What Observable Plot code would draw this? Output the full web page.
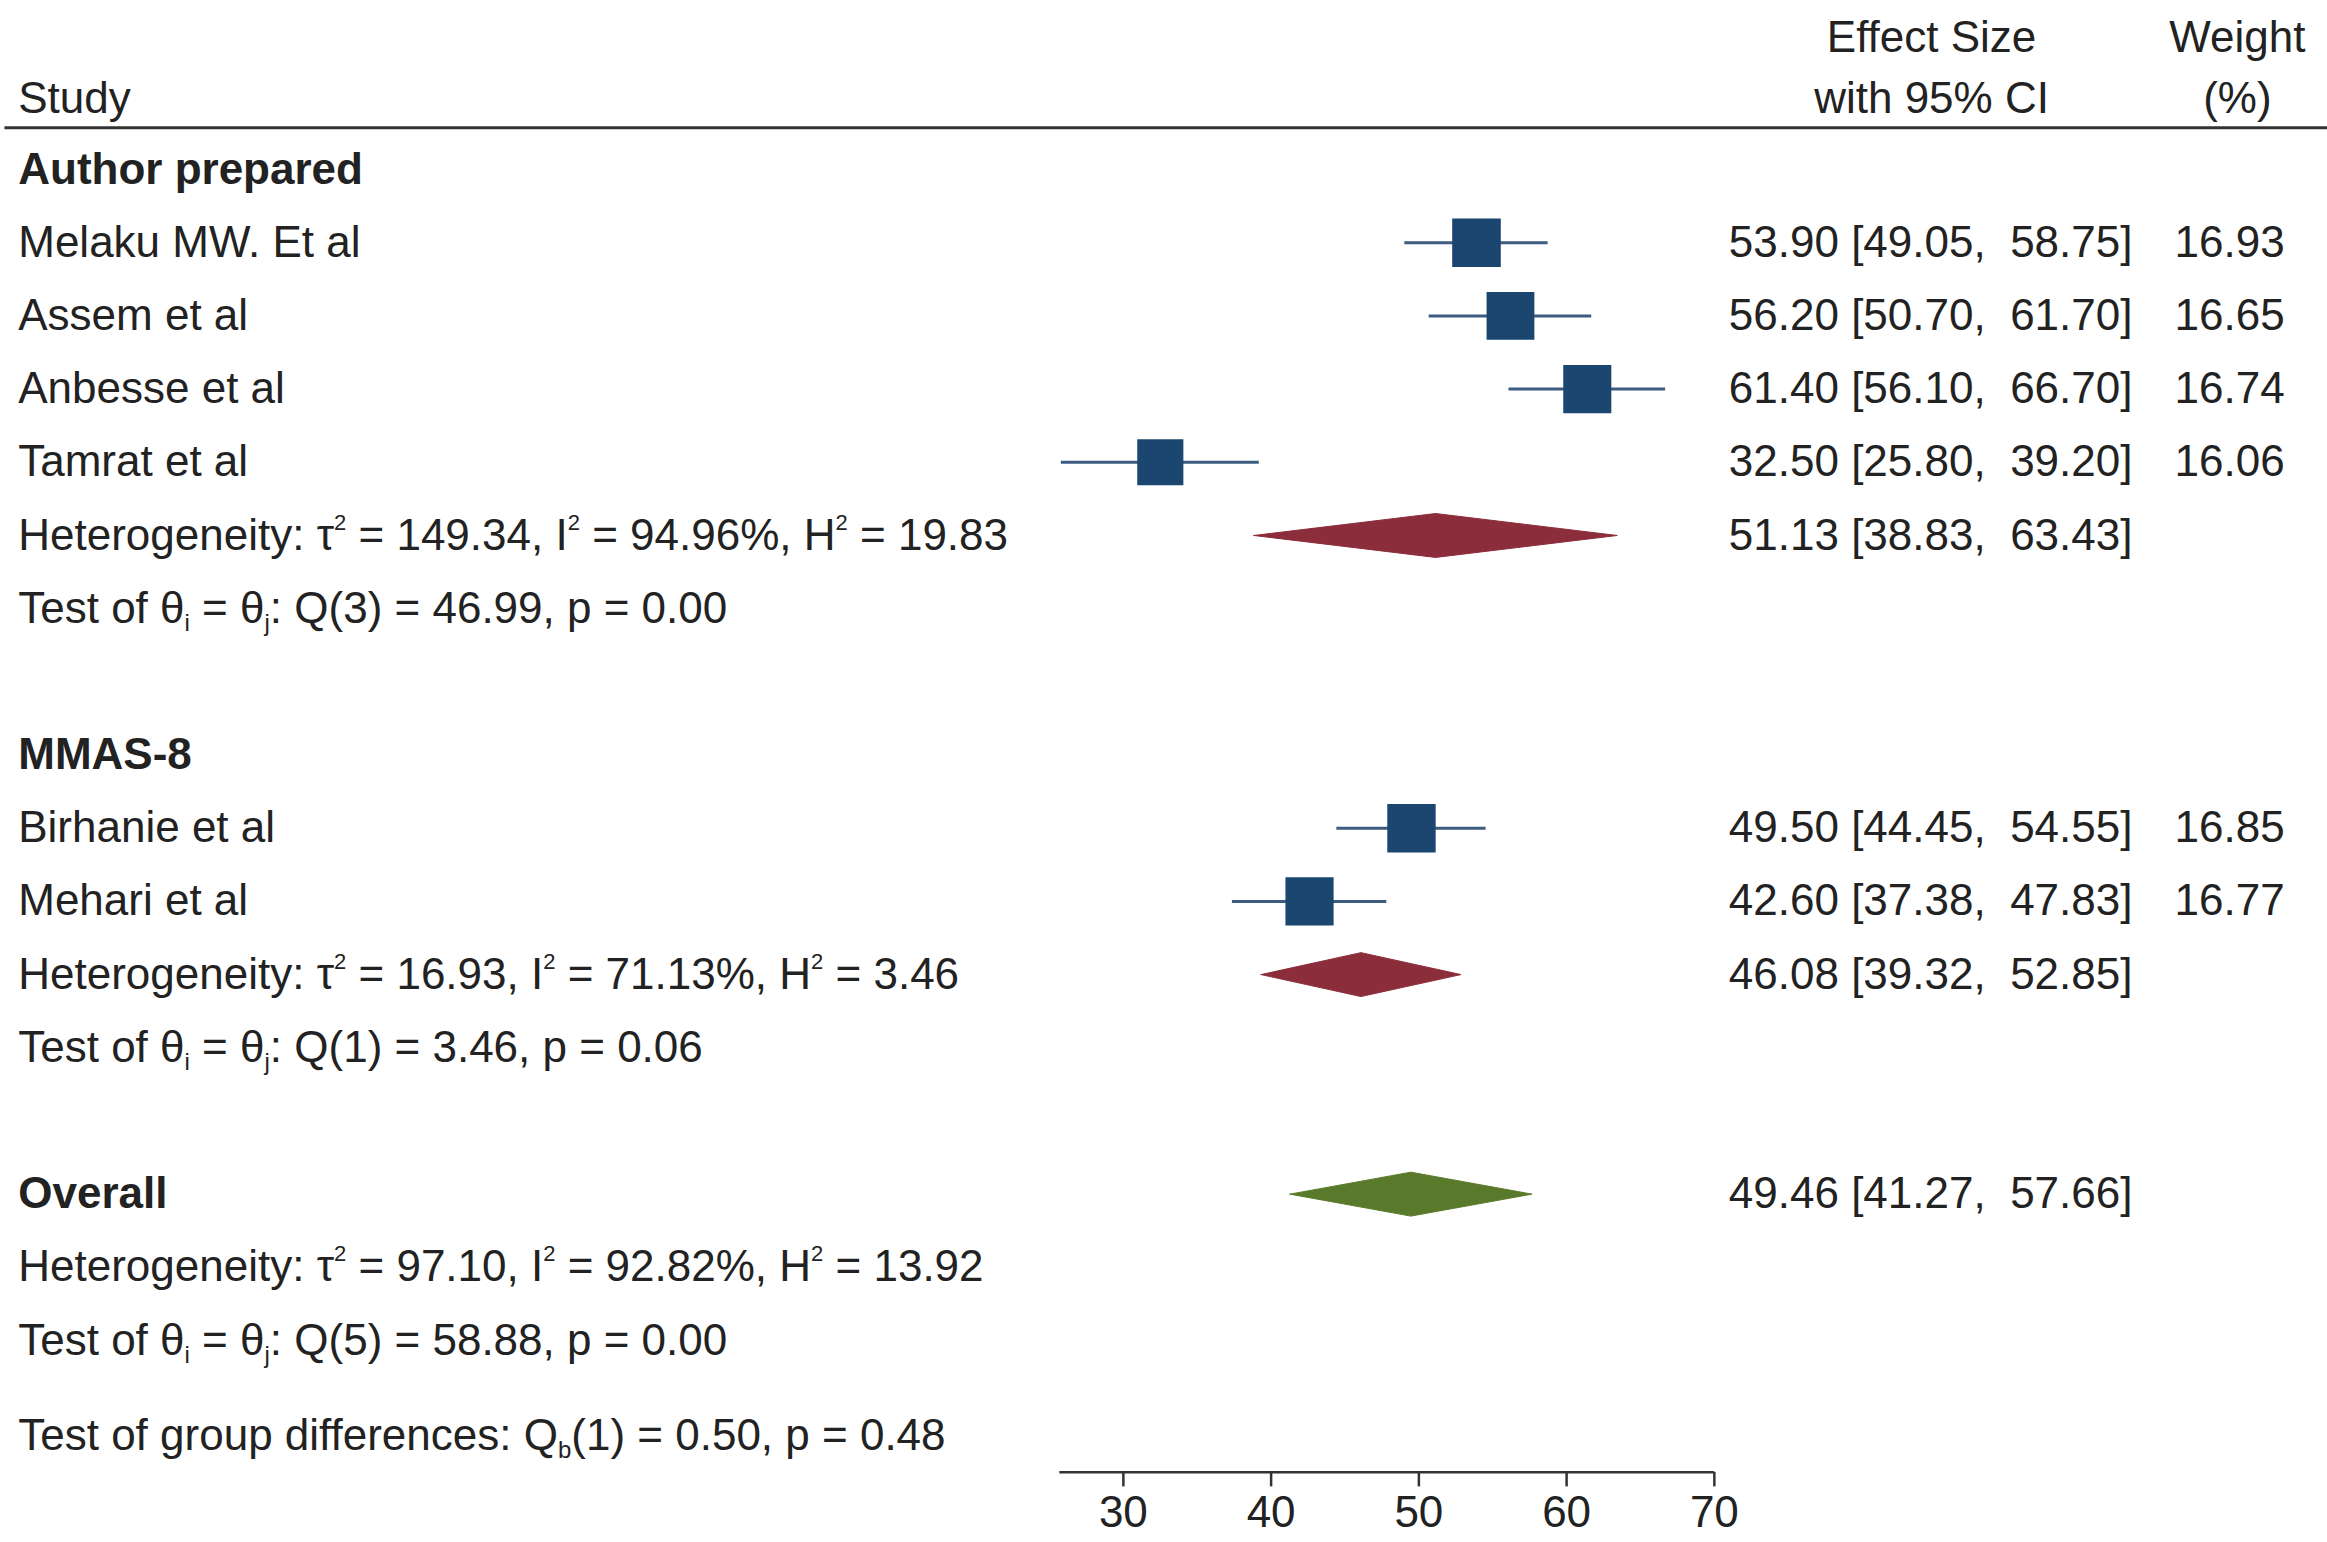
<!DOCTYPE html>
<html><head><meta charset="utf-8">
<script src="https://cdn.jsdelivr.net/npm/d3@7"></script>
<script src="https://cdn.jsdelivr.net/npm/@observablehq/plot@0.6"></script>
<style>body{margin:0;background:#fff}</style>
</head><body><div id="chart"></div>
<script>
// studies: row, name, estimate, lower, upper, weight
const studyRows = [1, 2, 3, 4, 9, 10]
const studyNames = ['Melaku MW. Et al', 'Assem et al', 'Anbesse et al', 'Tamrat et al', 'Birhanie et al', 'Mehari et al']
const studyEst = [53.90, 56.20, 61.40, 32.50, 49.50, 42.60]
const studyLo = [49.05, 50.70, 56.10, 25.80, 44.45, 37.38]
const studyHi = [58.75, 61.70, 66.70, 39.20, 54.55, 47.83]
const studyWeight = [16.93, 16.65, 16.74, 16.06, 16.85, 16.77]

// pooled estimates (diamonds)
const poolRows = [5, 11, 14]
const poolEst = [51.13, 46.08, 49.46]
const poolLo = [38.83, 39.32, 41.27]
const poolHi = [63.43, 52.85, 57.66]
const poolColor = ['#8c2d3b', '#8c2d3b', '#5a7a2b']

// text lines in the study column
const boldRows = [0, 8, 14]
const boldLabels = ['Author prepared', 'MMAS-8', 'Overall']
const noteRows = [5, 6, 11, 12, 15, 16, 17.3]
const noteLabels = [
  'Heterogeneity: τ^2 = 149.34, I^2 = 94.96%, H^2 = 19.83',
  'Test of θ_i = θ_j: Q(3) = 46.99, p = 0.00',
  'Heterogeneity: τ^2 = 16.93, I^2 = 71.13%, H^2 = 3.46',
  'Test of θ_i = θ_j: Q(1) = 3.46, p = 0.06',
  'Heterogeneity: τ^2 = 97.10, I^2 = 92.82%, H^2 = 13.92',
  'Test of θ_i = θ_j: Q(5) = 58.88, p = 0.00',
  'Test of group differences: Q_b(1) = 0.50, p = 0.48'
]
const axisTicks = [30, 40, 50, 60, 70]

const f2 = d3.format('.2f')
const ci = (e, l, h) => `${f2(e)} [${f2(l)},  ${f2(h)}]`

const studies = studyNames.map((n, i) => ({row: studyRows[i], name: n, est: studyEst[i], lo: studyLo[i], hi: studyHi[i], w: studyWeight[i]}))
const pools = poolRows.map((r, i) => ({row: r, est: poolEst[i], lo: poolLo[i], hi: poolHi[i], color: poolColor[i], id: i}))
const diamondPts = pools.flatMap(p => [
  {x: p.lo, y: p.row, id: p.id, c: p.color}, {x: p.est, y: p.row - 0.3, id: p.id, c: p.color},
  {x: p.hi, y: p.row, id: p.id, c: p.color}, {x: p.est, y: p.row + 0.3, id: p.id, c: p.color},
  {x: p.lo, y: p.row, id: p.id, c: p.color}])
const bold = boldRows.map((r, i) => ({row: r, t: boldLabels[i]}))
const notes = noteRows.map((r, i) => ({row: r, t: noteLabels[i]}))

// column anchors in x units
const colStudy = -44.8, colES = 98.3, colESmid = 84.7, colW = 108.6, colWmid = 105.4
const ink = '#222'
const fs = 44

const chart = Plot.plot({
  width: 2327, height: 1542,
  margin: 0,
  style: {fontFamily: '"Liberation Sans", Arial, sans-serif', color: ink, background: '#fff'},
  x: {domain: [-46, 111.5], axis: null},
  y: {domain: [-2.31, 18.76], reverse: true, axis: null},
  r: {type: 'identity'},
  marks: [
    // header
    Plot.text(['Study'], {x: colStudy, y: -0.97, text: d => d, textAnchor: 'start', fontSize: fs, fill: ink}),
    Plot.text(['Effect Size'], {x: colESmid, y: -1.8, text: d => d, fontSize: fs, fill: ink}),
    Plot.text(['with 95% CI'], {x: colESmid, y: -0.97, text: d => d, fontSize: fs, fill: ink}),
    Plot.text(['Weight'], {x: colWmid, y: -1.8, text: d => d, fontSize: fs, fill: ink}),
    Plot.text(['(%)'], {x: colWmid, y: -0.97, text: d => d, fontSize: fs, fill: ink}),
    Plot.ruleY([-0.57], {x1: -45.7, x2: 111.5, stroke: '#333', strokeWidth: 3}),

    Plot.text(bold, {x: colStudy, y: 'row', text: 't', textAnchor: 'start', fontSize: fs, fontWeight: 'bold', fill: ink}),
    Plot.text(studies, {x: colStudy, y: 'row', text: 'name', textAnchor: 'start', fontSize: fs, fill: ink}),
    Plot.text(notes, {x: colStudy, y: 'row', text: 't', textAnchor: 'start', fontSize: fs, fill: ink, className: 'note'}),

    // CI lines and squares
    Plot.ruleY(studies, {y: 'row', x1: 'lo', x2: 'hi', stroke: '#3d5c80', strokeWidth: 3}),
    Plot.dot(studies, {x: 'est', y: 'row', r: d => d.w * 1.62, symbol: 'square', fill: '#1b4670'}),

    // diamonds
    Plot.line(diamondPts, {x: 'x', y: 'y', z: 'id', fill: 'c', stroke: 'c', strokeWidth: 1}),

    // right columns
    Plot.text(studies, {x: colES, y: 'row', text: d => ci(d.est, d.lo, d.hi), textAnchor: 'end', fontSize: fs, fill: ink}),
    Plot.text(pools, {x: colES, y: 'row', text: d => ci(d.est, d.lo, d.hi), textAnchor: 'end', fontSize: fs, fill: ink}),
    Plot.text(studies, {x: colW, y: 'row', text: d => f2(d.w), textAnchor: 'end', fontSize: fs, fill: ink}),

    // axis
    Plot.ruleY([17.8], {x1: 25.7, x2: 70, stroke: '#333', strokeWidth: 2.5}),
    Plot.ruleX(axisTicks, {x: d => d, y1: 17.8, y2: 18.0, stroke: '#333', strokeWidth: 2.5}),
    Plot.text(axisTicks, {x: d => d, y: 18.36, text: d => String(d), fontSize: fs, fill: ink})
  ]
})

// superscripts / subscripts: shift and then restore baseline on the next chunk
d3.select(chart).selectAll('g.note text').each(function () {
  const parts = this.textContent.split(/(\^2|_[ijb])/).filter(p => p)
  this.textContent = ''
  const t = d3.select(this)
  let pending = 0
  parts.forEach(p => {
    if (p === '^2') {
      t.append('tspan').attr('font-size', 22).attr('dy', pending - 20).text('2'); pending = 20
    } else if (p[0] === '_') {
      t.append('tspan').attr('font-size', 24).attr('dy', pending + 8).text(p[1]); pending = -8
    } else {
      const s = t.append('tspan').text(p)
      if (pending) s.attr('dy', pending)
      pending = 0
    }
  })
})

document.getElementById('chart').append(chart)
</script></body></html>
